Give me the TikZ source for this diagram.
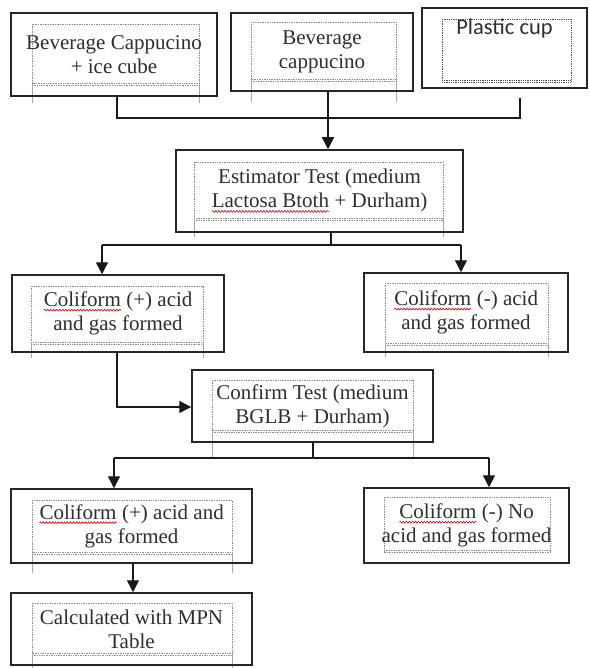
\documentclass[tikz,border=0pt]{standalone}
\usepackage{fontspec}
\setmainfont{Liberation Serif}
\newfontfamily\calibrifont{Carlito}
\usetikzlibrary{arrows.meta,decorations.pathmorphing}
\definecolor{txtgray}{HTML}{2E2E2E}
\newcommand\sq[1]{\tikz[baseline=(w.base)]{\node[draw=none, inner sep=0pt, outer sep=0pt,
    minimum width=0pt, minimum height=0pt, text height=, text depth=, text=txtgray] (w) {#1};
  \draw[red!85!black, line width=0.6pt, decorate, decoration={snake, amplitude=0.9pt, segment length=3pt}]
  ([yshift=-3.5pt]w.base west) -- ([yshift=-3.5pt]w.base east);}}
\newcommand\innerbox[5]{%
  \draw[innerframe] (#1,#2) rectangle (#3,#4);
  \draw[innerframe] (#1,#4+2) -- (#3,#4+2);
  \draw[innertick] (#1,#4) -- (#1,#5) (#3,#4) -- (#3,#5);
}
\tikzset{
  box/.style={draw=black!85, line width=1.5pt, inner sep=0pt, align=center,
    text=txtgray, font=\fontsize{21}{24}\selectfont},
  innerframe/.style={draw=black!45, densely dotted, line width=0.7pt},
  innertick/.style={draw=black!35, line width=0.6pt},
  conn/.style={draw=black!90, line width=1.4pt},
  arr/.style={conn, -{Triangle[width=12pt,length=12pt]}},
}
\begin{document}
\begin{tikzpicture}[x=1pt, y=-1pt]
\useasboundingbox[fill=white] (0,0) rectangle (589,668);

% inner (text-frame) outlines
\innerbox{32}{24}{199}{83}{103}
\innerbox{251}{22}{396}{79}{102}
\draw[draw=black!70, densely dotted, line width=0.8pt] (442,19) rectangle (571,82);
\draw[draw=black!70, densely dotted, line width=0.8pt] (442,80) -- (571,80);
\innerbox{194}{162}{443}{218}{237}
\innerbox{31}{286}{203}{342}{358}
\innerbox{385}{283}{548}{343}{357}
\innerbox{212}{380}{413}{430}{458}
\innerbox{32}{500}{232}{552}{573}
\draw[innerframe] (384,497) rectangle (550,552);
\draw[innerframe] (384,550) -- (550,550);
\innerbox{32}{603}{232}{653}{668}

% boxes
\node[box, minimum width=206pt, minimum height=83pt] (b1) at (114,54.5)
  {Beverage Cappucino\\+ ice cube};
\node[box, minimum width=182pt, minimum height=78pt] (b2) at (322,52)
  {Beverage\\cappucino};
\node[box, minimum width=165pt, minimum height=80pt, text depth=42pt,
  font=\calibrifont\fontsize{22.5}{26}\selectfont] (b3) at (504.5,48)
  {Plastic cup};
\node[box, minimum width=287pt, minimum height=82pt] (est) at (319.5,191)
  {Estimator Test (medium\\\sq{Lactosa Btoth} + Durham)};
\node[box, minimum width=212pt, minimum height=77pt] (cp) at (118,313.5)
  {\sq{Coliform} (+) acid\\and gas formed};
\node[box, minimum width=204pt, minimum height=79pt] (cm) at (466,312.5)
  {\sq{Coliform} (-) acid\\and gas formed};
\node[box, minimum width=241pt, minimum height=72pt] (conf) at (312.5,406)
  {Confirm Test (medium\\BGLB + Durham)};
\node[box, minimum width=241pt, minimum height=74pt] (cp2) at (131.5,526)
  {\sq{Coliform} (+) acid and\\gas formed};
\node[box, minimum width=205pt, minimum height=75pt] (cmn) at (466.5,525.5)
  {\sq{Coliform} (-) No\\acid and gas formed};
\node[box, minimum width=241pt, minimum height=72pt] (mpn) at (131.5,629)
  {Calculated with MPN\\Table};

% junctions
\coordinate (j1) at (117,118);
\coordinate (j3) at (520,118);
\coordinate (j2) at (328,118);
\coordinate (k0) at (331,245);
\coordinate (kl) at (102,245);
\coordinate (kr) at (461,245);
\coordinate (m1) at (117,407);
\coordinate (n0) at (313,458);
\coordinate (nl) at (114,458);
\coordinate (nr) at (489,458);
\coordinate (q) at (133,578);

% connectors
\draw[conn] (b1.south -| j1) -- (j1) -- (j3) -- ([yshift=-9pt]b3.south -| j3);
\draw[arr] (b2.south -| j2) -- (est.north -| j2);
\draw[conn] (est.south -| k0) -- (k0);
\draw[conn] (kl) -- (kr);
\draw[arr] (kl) -- (cp.north -| kl);
\draw[arr] (kr) -- (cm.north -| kr);
\draw[arr] (cp.south -| m1) -- (m1) -- (conf.west |- m1);
\draw[conn] (conf.south -| n0) -- (n0);
\draw[conn] (nl) -- (nr);
\draw[arr] (nl) -- (cp2.north -| nl);
\draw[arr] (nr) -- (cmn.north -| nr);
\draw[arr] (cp2.south -| q) -- (mpn.north -| q);
\end{tikzpicture}
\end{document}
